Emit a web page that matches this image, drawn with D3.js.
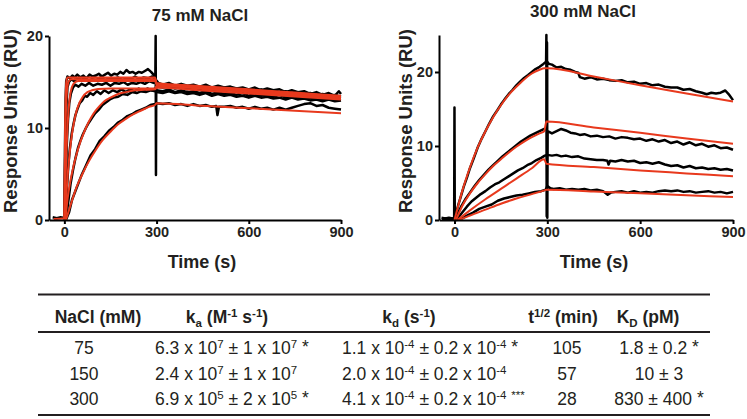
<!DOCTYPE html>
<html><head><meta charset="utf-8">
<script src="https://cdn.jsdelivr.net/npm/d3@7"></script>
<style>body{margin:0;background:#fff}svg{display:block}</style>
</head><body>
<script>
// ---------------- DATA ----------------
const titles = ["75 mM NaCl", "300 mM NaCl"];
const xTicks = [0, 300, 600, 900];
const yTicksLeft = [0, 10, 20];
const yTicksRight = [0, 10, 20];
const xTitle = "Time (s)";
const yTitle = "Response Units (RU)";

// 75 mM NaCl sensorgrams (time s, RU)
const l75Trace1 = [[-38,0.3],[-25,0.2],[-12,0.3],[-3,0.2],[0,0.4],[2,8.0],[4,13.2],[6,15.1],[10,15.6],[18,15.4],[26,15.7],[34,15.5],[42,15.8],[52,15.5],[62,15.7],[72,15.4],[82,15.8],[92,15.6],[102,15.7],[112,15.9],[122,15.6],[132,15.8],[142,16.0],[152,15.7],[162,15.9],[172,15.8],[182,16.1],[192,15.9],[202,16.3],[212,16.0],[222,16.1],[232,15.9],[242,16.1],[252,16.0],[262,16.2],[272,16.4],[282,16.1],[290,15.8],[296,15.6],[297,20],[298,4.9],[299,15.2],[306,14.9],[320,14.7],[340,14.9],[360,14.6],[380,14.8],[400,14.6],[420,14.7],[440,14.5],[460,14.7],[480,14.4],[500,14.6],[520,14.4],[540,14.5],[560,14.3],[580,14.4],[600,14.2],[620,14.4],[640,14.1],[660,14.3],[680,14.1],[700,14.2],[720,13.9],[740,14.1],[760,13.9],[780,14.0],[800,13.7],[820,13.9],[840,13.6],[860,13.8],[880,13.5],[893,14.0],[900,13.7]];
const l75Trace2 = [[0,0.3],[3,7.2],[6,12.0],[10,14.4],[15,15.0],[22,15.3],[32,15.1],[42,15.4],[54,15.2],[66,15.4],[78,15.1],[90,15.3],[104,15.2],[118,15.5],[132,15.2],[146,15.4],[160,15.3],[174,15.5],[188,15.2],[202,15.4],[216,15.3],[230,15.6],[244,15.3],[258,15.5],[272,15.4],[286,15.6],[296,15.3],[300,14.8],[320,14.6],[340,14.7],[360,14.4],[380,14.6],[400,14.5],[420,14.3],[440,14.5],[460,14.3],[480,14.4],[500,14.2],[520,14.4],[540,14.2],[560,14.3],[580,14.1],[600,14.2],[620,14.0],[640,14.2],[660,13.9],[680,14.1],[700,13.9],[720,14.0],[740,13.8],[760,13.9],[780,13.7],[800,13.8],[820,13.6],[840,13.7],[860,13.5],[880,13.6],[900,13.4]];
const l75Trace3 = [[2,0.2],[5,4.6],[8,8.3],[12,11.0],[16,12.7],[21,13.7],[28,14.4],[36,14.7],[46,14.5],[56,14.8],[68,14.6],[80,14.9],[94,14.6],[108,14.8],[122,14.7],[136,14.9],[150,14.6],[164,14.9],[178,14.8],[192,15.0],[206,14.7],[220,14.9],[234,14.8],[248,15.0],[262,14.8],[276,15.1],[290,14.9],[297,15.0],[300,14.5],[320,14.4],[340,14.5],[360,14.3],[380,14.4],[400,14.2],[420,14.4],[440,14.2],[460,14.3],[480,14.1],[500,14.2],[520,14.0],[540,14.2],[560,14.0],[580,14.1],[600,13.9],[620,14.0],[640,13.8],[660,14.0],[680,13.8],[700,13.9],[720,13.7],[740,13.8],[760,13.6],[780,13.7],[800,13.5],[820,13.6],[840,13.4],[860,13.5],[880,13.3],[900,13.4]];
const l75Trace4 = [[3,0.1],[8,3.3],[13,6.0],[18,7.8],[24,9.4],[30,10.5],[36,11.4],[42,12.0],[50,12.7],[58,13.0],[66,13.5],[74,13.4],[84,13.8],[94,13.6],[106,14.0],[118,13.7],[130,14.1],[144,13.8],[158,14.1],[172,13.9],[186,14.2],[200,13.9],[214,14.2],[228,14.0],[242,14.3],[256,14.0],[270,14.3],[284,14.1],[296,14.3],[300,14.1],[320,14.0],[340,14.2],[360,13.9],[380,14.1],[400,13.9],[420,14.0],[440,13.8],[460,14.0],[480,13.7],[500,13.9],[520,13.7],[540,13.8],[560,13.6],[580,13.8],[600,13.5],[620,13.7],[640,13.5],[660,13.6],[680,13.4],[700,13.6],[720,13.3],[740,13.5],[760,13.3],[780,13.4],[800,13.2],[820,13.3],[840,13.1],[860,13.3],[880,13.1],[900,13.2]];
const l75Trace5 = [[5,0.1],[12,1.8],[20,3.9],[28,5.4],[36,6.7],[44,7.8],[52,8.6],[60,9.3],[70,10.0],[80,10.6],[90,11.1],[100,11.6],[112,12.0],[124,12.5],[136,12.8],[148,13.1],[160,13.3],[175,13.4],[190,13.7],[205,13.6],[220,13.9],[235,13.8],[250,14.0],[265,13.9],[280,14.1],[296,14.0],[300,13.9],[320,13.8],[340,14.0],[360,13.8],[380,13.9],[400,13.7],[420,13.8],[440,13.6],[460,13.8],[480,13.5],[500,13.7],[520,13.5],[540,13.6],[560,13.4],[580,13.5],[600,13.3],[620,13.5],[640,13.3],[660,13.4],[680,13.2],[700,13.3],[720,13.1],[740,13.3],[760,13.1],[780,13.2],[800,13.0],[820,13.1],[840,12.9],[860,13.1],[880,12.9],[900,13.0]];
const l75Trace6 = [[5,0.0],[15,0.8],[25,2.2],[40,3.5],[55,4.8],[70,5.9],[85,7.0],[100,7.7],[115,8.6],[130,9.1],[145,9.7],[160,10.1],[175,10.6],[190,10.9],[205,11.3],[220,11.5],[235,11.8],[250,12.0],[265,12.2],[280,12.5],[295,12.6],[300,12.7],[320,12.6],[340,12.7],[360,12.5],[380,12.6],[400,12.4],[420,12.6],[440,12.4],[460,12.5],[480,12.3],[494,12.4],[498,11.4],[503,12.3],[520,12.3],[540,12.4],[560,12.2],[580,12.3],[600,12.1],[620,12.3],[640,12.1],[660,12.2],[680,12.0],[700,12.2],[720,12.0],[740,12.2],[760,12.4],[780,12.6],[800,12.7],[820,12.4],[840,12.5],[860,12.2],[880,12.1],[900,12.0]];

// 75 mM NaCl 1:1 fits
const l75Fit1 = [[-35,0.1],[0,0.2],[1,4.5],[2,8.5],[3,11.5],[5,14.3],[7,15.2],[10,15.5],[295,15.5],[300,14.9],[450,14.55],[600,14.2],[750,13.85],[900,13.5]];
const l75Fit2 = [[0,0],[2,6.9],[4,10.5],[6,12.6],[8,13.8],[11,14.7],[15,15.1],[22,15.3],[295,15.3],[300,14.8],[450,14.45],[600,14.1],[750,13.75],[900,13.4]];
const l75Fit3 = [[1,0],[4,4.5],[7,7.7],[10,10.0],[14,12.1],[18,13.4],[24,14.4],[32,14.9],[45,15.1],[295,15.1],[300,14.7],[450,14.35],[600,14.0],[750,13.65],[900,13.3]];
const l75Fit4 = [[2,0],[6,2.5],[10,4.5],[15,6.5],[20,8.1],[25,9.4],[30,10.4],[40,11.9],[50,12.8],[60,13.4],[75,13.9],[90,14.1],[110,14.25],[150,14.3],[295,14.3],[300,14.6],[450,14.25],[600,13.9],[750,13.55],[900,13.2]];
const l75Fit5 = [[3,0],[10,2.2],[20,4.3],[30,5.9],[40,7.2],[50,8.3],[60,9.2],[70,10.0],[80,10.7],[90,11.3],[100,11.8],[115,12.4],[130,12.9],[150,13.3],[175,13.7],[200,13.9],[230,14.1],[260,14.15],[295,14.2],[300,14.4],[450,14.07],[600,13.75],[750,13.42],[900,13.1]];
const l75Fit6 = [[5,0],[20,1.6],[40,3.6],[60,5.1],[80,6.4],[100,7.5],[125,8.7],[150,9.6],[175,10.4],[200,11.0],[225,11.5],[250,11.9],[275,12.3],[295,12.5],[300,12.7],[450,12.42],[600,12.15],[750,11.87],[900,11.6]];

// 300 mM NaCl sensorgrams
const r300Trace1 = [[-42,0.3],[-30,0.2],[-18,0.3],[-6,0.2],[-1,0.3],[0,15.2],[1,0.4],[5,0.9],[12,2.0],[20,3.1],[30,4.5],[40,5.7],[50,7.0],[62,8.3],[75,9.8],[88,11.0],[100,12.0],[112,13.0],[125,14.0],[138,14.8],[150,15.6],[162,16.3],[175,17.0],[188,17.6],[200,18.2],[212,18.7],[225,19.2],[238,19.6],[250,20.0],[262,20.4],[275,20.7],[285,21.0],[293,21.3],[296,21.2],[297,25],[298,0.5],[299,21.4],[305,21.1],[315,21.0],[330,20.6],[345,20.7],[360,20.4],[375,20.3],[390,20.0],[400,19.9],[405,19.3],[420,19.1],[440,19.3],[460,19.0],[480,19.1],[500,18.9],[520,18.8],[540,18.9],[560,18.6],[580,18.7],[600,18.4],[620,18.5],[640,18.2],[660,18.3],[680,18.0],[700,17.9],[720,17.9],[740,17.6],[760,17.7],[780,17.4],[800,17.2],[815,17.0],[830,17.2],[845,17.1],[860,17.2],[875,17.5],[888,16.9],[900,16.2]];
const r300Trace2 = [[-40,0.2],[0,0.2],[8,0.6],[20,1.7],[35,2.8],[50,3.7],[65,4.6],[80,5.4],[95,6.1],[110,6.8],[125,7.4],[140,8.0],[155,8.6],[170,9.1],[185,9.6],[200,10.1],[215,10.6],[230,11.0],[245,11.4],[260,11.7],[275,12.0],[290,12.3],[298,12.2],[299,24],[300,0.3],[301,12.0],[315,11.7],[330,12.0],[345,12.3],[360,12.1],[375,11.8],[390,11.7],[405,11.5],[420,11.6],[440,11.3],[460,11.4],[480,11.2],[500,11.3],[520,11.0],[540,11.2],[560,11.1],[580,10.9],[600,11.0],[620,10.7],[640,10.9],[660,10.6],[680,10.8],[700,10.4],[720,10.6],[740,10.2],[760,10.5],[780,10.1],[800,10.3],[820,9.9],[840,10.1],[860,9.7],[880,9.8],[900,9.5]];
const r300Trace3 = [[-40,0.1],[0,0.1],[10,0.2],[25,1.0],[40,1.8],[55,2.5],[70,3.0],[85,3.5],[100,3.9],[115,4.4],[130,4.8],[145,5.1],[160,5.5],[175,5.9],[190,6.3],[205,6.7],[220,7.0],[235,7.4],[250,7.7],[265,8.1],[280,8.4],[292,8.7],[300,8.8],[315,8.7],[330,8.8],[345,8.6],[360,8.7],[380,8.5],[400,8.6],[420,8.3],[440,8.2],[460,8.1],[480,8.1],[494,8.0],[498,7.5],[503,8.0],[520,7.9],[540,8.1],[560,7.9],[580,8.0],[600,7.7],[620,7.8],[640,7.6],[660,7.8],[680,7.5],[700,7.3],[720,7.4],[740,7.1],[760,7.3],[780,7.0],[800,7.1],[820,6.9],[840,7.0],[860,6.8],[880,6.9],[900,6.7]];
const r300Trace4 = [[-40,0.2],[-10,0.1],[5,0.0],[20,0.1],[40,0.6],[60,1.0],[80,1.5],[100,1.8],[120,2.1],[140,2.6],[160,2.9],[180,3.1],[200,3.3],[220,3.4],[240,3.6],[260,3.8],[280,3.9],[295,4.1],[300,4.6],[310,4.3],[320,4.2],[340,4.3],[360,4.1],[380,4.2],[400,4.1],[420,4.2],[440,4.0],[460,4.1],[480,3.9],[495,3.4],[505,3.7],[520,3.8],[540,3.9],[560,3.7],[580,3.9],[600,3.7],[620,3.8],[640,3.7],[660,3.9],[680,4.0],[700,3.9],[720,4.0],[740,3.8],[760,3.9],[780,3.7],[800,3.8],[820,3.9],[840,3.7],[860,3.8],[880,3.6],[900,3.8]];

// 300 mM NaCl fits
const r300Fit1 = [[0,0],[10,1.6],[25,3.9],[50,7.1],[75,9.8],[100,12.0],[125,13.9],[150,15.5],[175,16.9],[200,18.0],[225,19.0],[250,19.8],[275,20.3],[290,20.5],[300,20.5],[450,19.4],[600,18.2],[750,17.1],[900,16.0]];
const r300Fit2 = [[5,0],[25,1.9],[50,3.6],[75,5.0],[100,6.2],[125,7.3],[150,8.2],[175,9.1],[200,9.9],[225,10.6],[250,11.2],[275,11.7],[290,12.0],[297,13.3],[450,12.5],[600,11.8],[750,11.0],[900,10.3]];
const r300Fit3 = [[10,0],[50,1.3],[100,2.8],[150,4.2],[200,5.6],[250,7.0],[290,8.2],[297,7.6],[450,7.15],[600,6.7],[750,6.3],[900,5.9]];
const r300Fit4 = [[15,0],[50,0.6],[100,1.4],[150,2.2],[200,2.9],[250,3.5],[290,4.0],[297,4.1],[450,3.85],[600,3.6],[750,3.35],[900,3.1]];

// Table
const naclConc = ["75", "150", "300"];
const kaMant = ["6.3", "2.4", "6.9"];
const kaExp = ["7", "7", "5"];
const kaErr = ["1", "1", "2"];
const kaErrExp = ["7", "7", "5"];
const kaSig = ["*", "", "*"];
const kdMant = ["1.1", "2.0", "4.1"];
const kdExp = ["-4", "-4", "-4"];
const kdErr = ["0.2", "0.2", "0.2"];
const kdErrExp = ["-4", "-4", "-4"];
const kdSig = ["*", "", "***"];
const halfLife = ["105", "57", "28"];
const kdEq = ["1.8 ± 0.2", "10 ± 3", "830 ± 400"];
const kdEqSig = ["*", "", "*"];

// ---------------- DRAW ----------------
const W = 747, H = 419;
const FONT = "'Liberation Sans', Arial, Helvetica, sans-serif";
const TXT = "#231f20";
const RED = "#e8391d";
const svg = d3.select("body").append("svg").attr("width", W).attr("height", H)
  .style("font-family", FONT);

const panels = [
  { title: titles[0], x: d3.scaleLinear([-50, 900], [49, 341]), y: d3.scaleLinear([0, 20], [220, 36]),
    yTicks: yTicksLeft, traces: [l75Trace1, l75Trace2, l75Trace3, l75Trace4, l75Trace5, l75Trace6],
    fits: [l75Fit1, l75Fit2, l75Fit3, l75Fit4, l75Fit5, l75Fit6], titleX: 200, titleY: 21, yTitleX: 17, xTitleX: 202 },
  { title: titles[1], x: d3.scaleLinear([-50, 900], [439, 733]), y: d3.scaleLinear([0, 25], [220, 35]),
    yTicks: yTicksRight, traces: [r300Trace1, r300Trace2, r300Trace3, r300Trace4],
    fits: [r300Fit1, r300Fit2, r300Fit3, r300Fit4], titleX: 583, titleY: 17, yTitleX: 412, xTitleX: 594 }
];

panels.forEach(p => {
  const g = svg.append("g");
  const line = d3.line().x(d => p.x(d[0])).y(d => p.y(d[1]));
  const fitLine = d3.line().x(d => p.x(d[0])).y(d => p.y(d[1])).curve(d3.curveMonotoneX);
  g.selectAll(".trace").data(p.traces).join("path").attr("class", "trace")
    .attr("d", line).attr("fill", "none").attr("stroke", "#000")
    .attr("stroke-width", 2.5).attr("stroke-linejoin", "round");
  g.selectAll(".fit").data(p.fits).join("path").attr("class", "fit")
    .attr("d", fitLine).attr("fill", "none").attr("stroke", RED)
    .attr("stroke-width", 2).attr("stroke-linejoin", "round");

  const xAx = g.append("g").attr("transform", `translate(0,${p.y(0)})`)
    .call(d3.axisBottom(p.x).tickValues(xTicks).tickSize(4).tickSizeOuter(0).tickPadding(3));
  const yAx = g.append("g").attr("transform", `translate(${p.x.range()[0]},0)`)
    .call(d3.axisLeft(p.y).tickValues(p.yTicks).tickSize(4).tickSizeOuter(0).tickPadding(2));
  [xAx, yAx].forEach(a => {
    a.select(".domain").attr("stroke", "#000").attr("stroke-width", 2);
    a.selectAll(".tick line").attr("stroke", "#000").attr("stroke-width", 2);
    a.selectAll(".tick text").attr("fill", TXT).style("font-size", "14.5px")
      .style("font-weight", "bold").style("font-family", FONT);
  });

  g.append("text").attr("x", p.titleX).attr("y", p.titleY).attr("text-anchor", "middle")
    .style("font-size", "17px").style("font-weight", "bold").attr("fill", TXT).text(p.title);
  g.append("text").attr("x", p.xTitleX).attr("y", 268).attr("text-anchor", "middle")
    .style("font-size", "18px").style("font-weight", "bold").attr("fill", TXT).text(xTitle);
  g.append("text").attr("transform", `translate(${p.yTitleX},121) rotate(-90)`)
    .attr("text-anchor", "middle").style("font-size", "18.5px").style("font-weight", "bold")
    .attr("fill", TXT).text(yTitle);
});

// ---- table ----
const tb = svg.append("g").attr("fill", TXT);
const tx0 = 38, tx1 = 710;
[294.5, 332, 415].forEach(yy => {
  tb.append("line").attr("x1", tx0).attr("x2", tx1).attr("y1", yy).attr("y2", yy)
    .attr("stroke", "#231f20").attr("stroke-width", 2);
});
const headY = 323;
const FS = 17.5, SUP = 11.5;
function addRich(x, y, parts, anchor, bold) {
  const t = tb.append("text").attr("x", x).attr("y", y).attr("text-anchor", anchor)
    .style("font-size", FS + "px").style("font-weight", bold ? "bold" : "normal");
  let shift = 0;
  parts.forEach(([s, kind]) => {
    const target = kind === "sup" ? -6 : kind === "sub" ? 4 : kind === "star" ? -1 : 0;
    const ts = t.append("tspan").attr("dy", target - shift).text(s);
    if (kind === "sup" || kind === "sub") ts.style("font-size", SUP + "px");
    shift = target;
  });
  return t;
}
function sigPart(s) { return s.length > 1 ? [s, "sup"] : [s, "star"]; }
addRich(98, headY, [["NaCl (mM)"]], "middle", true);
addRich(227, headY, [["k"], ["a", "sub"], [" (M"], ["-1", "sup"], [" s"], ["-1", "sup"], [")"]], "middle", true);
addRich(409, headY, [["k"], ["d", "sub"], [" (s"], ["-1", "sup"], [")"]], "middle", true);
addRich(563, headY, [["t"], ["1/2", "sup"], [" (min)"]], "middle", true);
addRich(648, headY, [["K"], ["D", "sub"], [" (pM)"]], "middle", true);

const rowY = [354, 379.5, 405];
naclConc.forEach((c, i) => {
  const y = rowY[i];
  addRich(84, y, [[c]], "middle", false);
  addRich(155, y, [[kaMant[i] + " x 10"], [kaExp[i], "sup"], [" ± " + kaErr[i] + " x 10"], [kaErrExp[i], "sup"], [kaSig[i] ? " " : ""], sigPart(kaSig[i])], "start", false);
  addRich(342, y, [[kdMant[i] + " x 10"], [kdExp[i], "sup"], [" ± " + kdErr[i] + " x 10"], [kdErrExp[i], "sup"], [kdSig[i] ? " " : ""], sigPart(kdSig[i])], "start", false);
  addRich(567, y, [[halfLife[i]]], "middle", false);
  addRich(659, y, [[kdEq[i]], [kdEqSig[i] ? " " : ""], sigPart(kdEqSig[i])], "middle", false);
});
</script>
</body></html>
